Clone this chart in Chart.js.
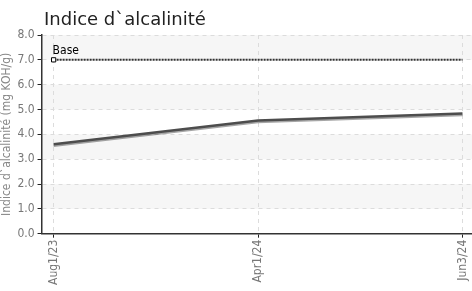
<!DOCTYPE html>
<html lang="fr">
<head>
    <meta charset="UTF-8">
    <title>Indice d`alcalinité</title>
    <script src="https://cdn.jsdelivr.net/npm/chart.js"></script>
    <style>
        html, body { margin: 0; padding: 0; background: #fff; overflow: hidden; }
        #wrap { width: 479px; height: 291px; }
    </style>
</head>
<body>
<div id="wrap"><canvas id="alkChart"></canvas></div>
<script>
    // data
    var dateLabels = ['Aug1/23', 'Apr1/24', 'Jun3/24'];
    var alkValues = [3.6, 4.56, 4.84];
    var baseValues = [7.0, 7.0, 7.0];
    var baseLabel = 'Base';
    var chartTitle = 'Indice d`alcalinité';

    var tickFont = { family: 'DejaVu Sans Condensed', size: 12 };

    // light grey bands on every other step of y
    var bandPlugin = {
        id: 'bands',
        beforeDraw: function(chart) {
            var ctx = chart.ctx, area = chart.chartArea, y = chart.scales.y;
            ctx.save();
            ctx.fillStyle = '#f6f6f6';
            for (var v = 1; v < 8; v += 2) {
                var top = y.getPixelForValue(v + 1), bot = y.getPixelForValue(v);
                ctx.fillRect(area.left, top, area.right - area.left, bot - top);
            }
            ctx.restore();
        }
    };

    // title, soft shadow under the main line, "Base" text
    var extrasPlugin = {
        id: 'extras',
        beforeDatasetDraw: function(chart, args) {
            if (args.index === 0) {
                chart.ctx.save();
                chart.ctx.shadowColor = 'rgba(0,0,0,0.35)';
                chart.ctx.shadowOffsetY = 1.5;
                chart.ctx.shadowBlur = 0;
            }
        },
        afterDatasetDraw: function(chart, args) {
            if (args.index === 0) chart.ctx.restore();
        },
        afterDraw: function(chart) {
            var ctx = chart.ctx;
            var pt = chart.getDatasetMeta(1).data[0];
            ctx.save();
            ctx.fillStyle = '#000';
            ctx.font = '12px "DejaVu Sans Condensed"';
            ctx.textAlign = 'left';
            ctx.textBaseline = 'bottom';
            ctx.fillText(baseLabel, pt.x - 1, pt.y - 3);

            ctx.fillStyle = '#222';
            ctx.font = '18px "DejaVu Sans"';
            ctx.textBaseline = 'alphabetic';
            ctx.fillText(chartTitle, 44, 25);
            ctx.restore();
        }
    };

    new Chart(document.getElementById('alkChart'), {
        type: 'line',
        data: {
            datasets: [{
                label: 'Indice',
                data: alkValues.map(function(v, i) { return { x: i, y: v }; }),
                borderColor: '#4d4d4d',
                borderWidth: 2.5,
                pointRadius: 0,
                tension: 0
            }, {
                label: baseLabel,
                data: baseValues.map(function(v, i) { return { x: i, y: v }; }),
                borderColor: '#333',
                borderWidth: 2,
                borderDash: [2, 1],
                pointStyle: 'rect',
                pointRadius: [3, 0, 0],
                pointBackgroundColor: '#fff',
                pointBorderColor: '#000',
                pointBorderWidth: 1,
                tension: 0
            }]
        },
        options: {
            responsive: true,
            maintainAspectRatio: false,
            animation: false,
            layout: { padding: { top: 35, right: 0, left: 0, bottom: 4 } },
            plugins: {
                legend: { display: false },
                tooltip: { enabled: false },
                title: { display: false }
            },
            scales: {
                x: {
                    type: 'linear',
                    min: -0.059,
                    max: 2.049,
                    afterBuildTicks: function(scale) {
                        scale.ticks = dateLabels.map(function(l, i) { return { value: i }; });
                    },
                    ticks: {
                        autoSkip: false,
                        minRotation: 90,
                        maxRotation: 90,
                        color: '#777',
                        font: tickFont,
                        padding: 2,
                        callback: function(v) { return dateLabels[v]; }
                    },
                    grid: {
                        color: '#dcdcdc',
                        tickColor: '#222',
                        tickBorderDash: [],
                        tickLength: 4
                    },
                    border: { display: true, color: '#333', width: 1.5, dash: [4, 4] }
                },
                y: {
                    min: 0,
                    max: 8,
                    ticks: {
                        stepSize: 1,
                        color: '#777',
                        font: tickFont,
                        padding: 3,
                        callback: function(v) { return v.toFixed(1); }
                    },
                    grid: {
                        color: '#dcdcdc',
                        tickColor: '#222',
                        tickBorderDash: [],
                        tickLength: 4
                    },
                    border: { display: true, color: '#333', width: 1.5, dash: [4, 4] },
                    title: {
                        display: true,
                        text: 'Indice d`alcalinité (mg KOH/g)',
                        color: '#888',
                        font: { family: 'DejaVu Sans Condensed', size: 12 },
                        padding: 0
                    }
                }
            }
        },
        plugins: [bandPlugin, extrasPlugin]
    });
</script>
</body>
</html>
